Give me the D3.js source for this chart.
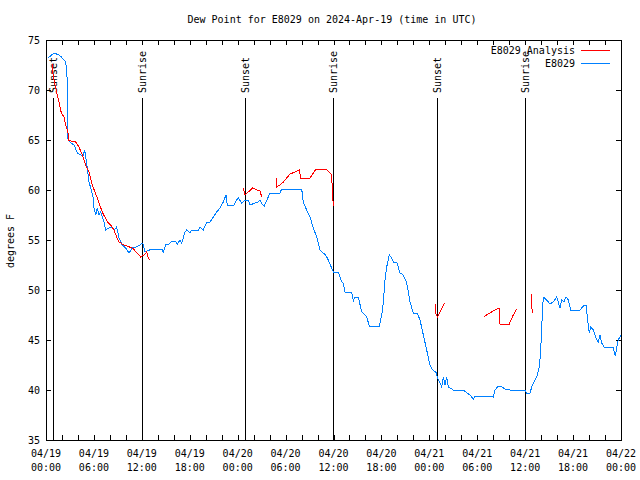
<!DOCTYPE html>
<html>
<head>
<meta charset="utf-8">
<script src="https://cdn.jsdelivr.net/npm/d3@7"></script>
<style>
body{margin:0;background:#fff;}
text{font-family:"DejaVu Sans Mono","Liberation Mono",monospace;font-size:10px;fill:#000;}
</style>
</head>
<body>
<svg id="chart" width="640" height="480"></svg>
<script>
// ---- data (hours since 2024-04-19 00:00 UTC, degrees F) ----
const stationHours = [0.25,1.0,1.63,1.92,2.25,2.47,2.63,2.67,3.09,3.51,3.92,4.35,4.67,4.85,5.17,5.38,5.60,5.92,6.01,6.22,6.42,6.64,6.85,7.26,7.48,7.89,8.10,8.51,8.85,9.14,9.55,9.98,10.39,10.81,11.23,11.77,12.11,12.40,13.24,14.49,14.69,15.03,15.31,15.74,16.15,16.44,16.78,16.99,17.41,17.62,18.03,18.24,19.07,19.28,19.70,20.12,20.54,20.95,21.38,21.79,22.20,22.54,22.70,23.54,23.88,24.08,24.51,24.92,25.33,25.54,26.17,26.58,26.80,27.14,27.34,27.55,28.05,29.30,29.51,32.02,32.22,32.64,33.06,33.47,33.90,34.31,34.72,35.02,35.35,35.77,35.98,36.60,37.03,37.23,37.44,38.28,38.48,38.69,39.11,39.53,39.94,40.16,40.48,41.74,42.04,42.24,42.45,42.66,42.99,43.29,43.49,43.91,44.33,44.74,45.17,45.58,45.99,46.49,46.83,47.25,47.67,48.08,48.30,48.92,49.00,49.34,49.55,49.75,49.96,50.17,50.38,50.59,51.00,52.25,53.09,53.51,53.72,55.60,56.01,56.22,56.64,57.06,57.48,58.10,59.98,60.19,60.61,60.82,61.02,61.44,61.77,61.95,62.07,62.27,62.70,63.11,63.52,63.95,64.36,64.57,64.86,65.11,65.40,65.70,66.87,67.28,67.62,67.78,68.03,68.20,68.53,68.87,69.16,69.37,69.58,69.87,71.04,71.16,71.29,71.46,71.66,72.0];
const stationValues = [73.2,73.7,73.5,73.3,73.0,72.8,71.3,65.2,64.7,64.5,63.7,63.5,63.5,64.0,62.2,60.8,60.2,59.2,58.2,57.5,58.2,57.5,57.8,56.8,56.0,56.2,56.3,56.0,56.3,55.2,54.5,54.2,53.7,54.2,54.3,54.5,54.7,53.8,54.1,54.1,53.8,54.6,54.5,54.9,54.9,54.6,55.0,54.7,55.8,56.0,55.7,56.0,56.0,56.3,56.0,56.8,56.8,57.3,57.8,58.2,58.8,59.5,58.5,58.5,59.0,59.2,58.7,59.0,59.0,58.5,58.7,58.8,59.0,58.5,58.4,58.8,59.7,59.7,60.1,60.1,58.8,58.0,57.3,56.2,55.3,54.0,53.7,53.5,53.0,52.2,51.8,51.8,50.8,50.7,49.8,49.8,48.9,49.3,49.3,47.8,47.5,47.3,46.4,46.4,47.5,48.8,51.0,52.3,53.5,53.2,52.8,52.8,51.7,51.5,50.7,48.8,47.7,47.7,47.0,45.5,44.0,42.5,42.1,41.7,41.2,40.7,40.3,41.3,40.5,41.3,40.3,40.2,40.0,40.0,39.5,39.1,39.4,39.4,39.3,40.0,40.4,40.3,40.1,40.0,40.0,39.7,39.7,40.3,40.7,41.3,42.3,44.0,46.3,49.3,49.0,48.6,48.8,49.3,48.2,49.0,48.8,49.3,49.0,48.0,48.0,48.4,48.5,47.3,45.7,46.3,46.0,45.2,44.8,45.5,44.7,44.3,44.3,43.7,43.4,44.2,45.0,45.5];

// analysis series; null marks a gap
const analysisHours = [0.79,0.91,1.21,1.63,1.92,2.25,2.47,2.75,2.79,3.09,3.72,4.13,4.55,4.97,5.38,5.80,6.42,7.05,7.68,8.10,8.51,8.85,9.14,9.77,10.81,11.43,11.86,12.27,12.61,12.77,12.94,
  18.0,
  24.71,24.92,25.33,25.88,26.38,26.80,27.01,
  28.0,
  28.80,28.89,29.30,29.72,30.14,30.55,31.18,31.72,31.89,33.06,33.40,33.81,35.15,35.56,35.77,35.85,35.98,
  42.0,
  48.75,48.84,49.00,49.34,49.92,
  52.0,
  54.83,55.17,55.58,56.01,56.44,56.72,56.85,58.01,58.51,58.94,
  60.0,
  60.73,60.82,60.89];
const analysisValues = [72.6,71.3,70.2,68.8,67.7,67.3,66.5,65.8,65.0,64.9,64.8,64.3,63.5,62.5,61.8,60.5,59.2,57.8,56.8,56.5,56.0,55.3,54.8,54.5,54.2,53.7,53.3,53.5,53.8,53.3,53.0,
  null,
  60.2,59.5,59.8,60.2,60.0,59.9,59.3,
  null,
  61.2,60.3,60.5,60.8,61.2,61.6,61.8,62.0,61.2,61.2,61.6,62.1,62.0,61.7,61.5,60.0,58.4,
  null,
  48.6,47.6,47.3,47.8,48.7,
  null,
  47.3,47.5,47.7,47.9,48.1,48.2,46.6,46.6,47.5,48.1,
  null,
  49.6,48.6,47.7];

const sunHours = [0.88,12.02,24.92,35.94,48.96,59.98];
const sunLabels = ["Sunset","Sunrise","Sunset","Sunrise","Sunset","Sunrise"];

const yTicks = [35,40,45,50,55,60,65,70,75];
const xLabelHours = [0,6,12,18,24,30,36,42,48,54,60,66,72];
const xMinorHours = d3.range(0,73,2);

const titleText = "Dew Point for E8029 on 2024-Apr-19 (time in UTC)";
const yLabelText = "degrees F";
const seriesNames = ["E8029 Analysis","E8029"];
const seriesColors = ["#ff0000","#0080ff"];

// ---- layout ----
const W=640,H=480, L=46, R=621, T=40, B=440;
const base = Date.UTC(2024,3,19,0,0,0);
const toDate = h => new Date(base + h*3600000);

const svg = d3.select("#chart");
const x = d3.scaleUtc().domain([toDate(0),toDate(72)]).range([L,R]);
const y = d3.scaleLinear().domain([35,75]).range([B,T]);

// axes
const axB = d3.axisBottom(x).tickValues(xMinorHours.map(toDate)).tickSize(-5).tickFormat("");
const axT = d3.axisTop(x).tickValues(xMinorHours.map(toDate)).tickSize(-5).tickFormat("");
const axL = d3.axisLeft(y).tickValues(yTicks).tickSize(-5).tickPadding(6).tickFormat(d3.format("d"));
const axR = d3.axisRight(y).tickValues(yTicks).tickSize(-5).tickFormat("");

function styleAxis(g){
  g.select(".domain").remove();
  g.selectAll(".tick line").attr("stroke","#000").attr("shape-rendering","crispEdges");
  g.selectAll("text").attr("font-family",null).attr("font-size",null);
}
svg.append("g").attr("transform",`translate(0,${B})`).call(axB).call(styleAxis);
svg.append("g").attr("transform",`translate(0,${T})`).call(axT).call(styleAxis);
svg.append("g").attr("transform",`translate(${L},0)`).call(axL).call(styleAxis);
svg.append("g").attr("transform",`translate(${R},0)`).call(axR).call(styleAxis);

// x labels (two lines)
const fmtD = d3.utcFormat("%m/%d"), fmtT = d3.utcFormat("%H:%M");
const xl = svg.append("g").selectAll("text").data(xLabelHours).join("text")
  .attr("text-anchor","middle");
xl.append("tspan").attr("x",h=>x(toDate(h))).attr("y",457).text(h=>fmtD(toDate(h)));
xl.append("tspan").attr("x",h=>x(toDate(h))).attr("y",471).text(h=>fmtT(toDate(h)));

// sunrise/sunset lines
const sg = svg.append("g");
sg.selectAll("line").data(sunHours).join("line")
  .attr("x1",h=>Math.round(x(toDate(h)))+0.5).attr("x2",h=>Math.round(x(toDate(h)))+0.5)
  .attr("y1",B).attr("y2",98).attr("stroke","#000").attr("stroke-width",1);
sg.selectAll("text").data(sunHours).join("text")
  .attr("transform",h=>`translate(${Math.round(x(toDate(h)))+4},93) rotate(-90)`)
  .text((h,i)=>sunLabels[i]);

// series lines
const lineA = d3.line().defined((d)=>d[1]!==null).x(d=>x(toDate(d[0]))).y(d=>y(d[1]));
const dataA = analysisHours.map((h,i)=>[h,analysisValues[i]]);
const dataS = stationHours.map((h,i)=>[h,stationValues[i]]);
svg.append("path").datum(dataS).attr("d",lineA).attr("fill","none").attr("stroke",seriesColors[1])
  .attr("stroke-width",1).attr("shape-rendering","crispEdges");
svg.append("path").datum(dataA).attr("d",lineA).attr("fill","none").attr("stroke",seriesColors[0])
  .attr("stroke-width",1).attr("shape-rendering","crispEdges");

// border
svg.append("rect").attr("x",L+0.5).attr("y",T+0.5).attr("width",R-L).attr("height",B-T)
  .attr("fill","none").attr("stroke","#000").attr("shape-rendering","crispEdges");

// title & y label
svg.append("text").attr("x",332).attr("y",23).attr("text-anchor","middle").text(titleText);
svg.append("text").attr("transform","translate(14,241) rotate(-90)").attr("text-anchor","middle").text(yLabelText);

// legend
const lg = svg.append("g");
seriesNames.forEach((n,i)=>{
  const yy = 50 + i*13;
  lg.append("text").attr("x",575).attr("y",yy).attr("dy","0.35em").attr("text-anchor","end").text(n);
  lg.append("line").attr("x1",581).attr("x2",610).attr("y1",yy+0.5).attr("y2",yy+0.5)
    .attr("stroke",seriesColors[i]).attr("stroke-width",1).attr("shape-rendering","crispEdges");
});
</script>
</body>
</html>
